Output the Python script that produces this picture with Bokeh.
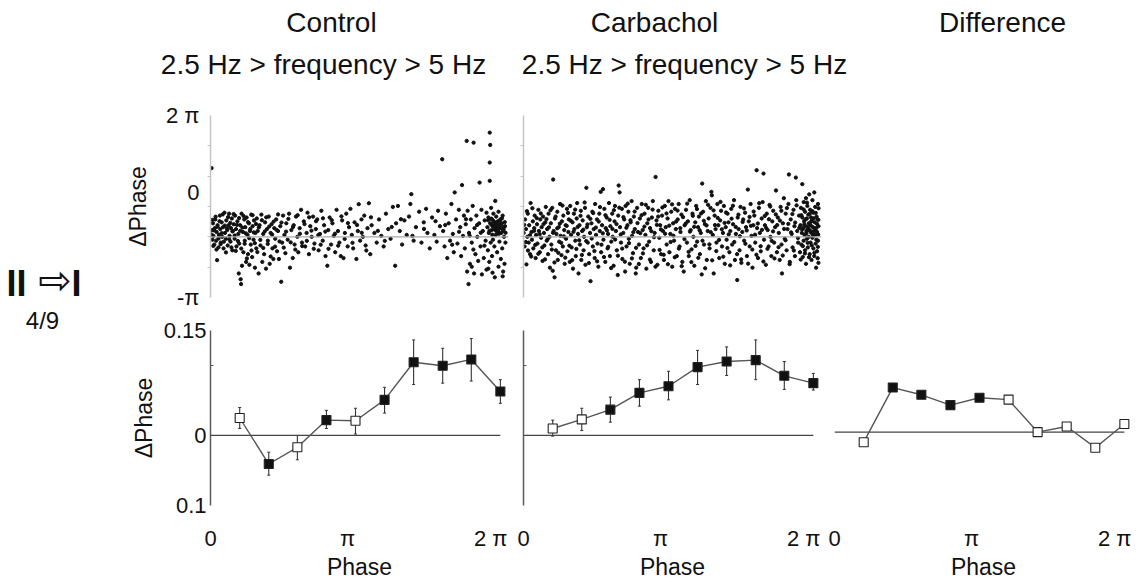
import math
from bokeh.plotting import figure
from bokeh.layouts import row, column
from bokeh.models import ColumnDataSource, Range1d, FixedTicker, Span, Whisker, TeeHead
from bokeh.core.properties import value
from bokeh.embed import file_html
from bokeh.resources import INLINE

PI = math.pi
TWO_PI = 2 * math.pi
FONT = "Liberation Sans"
TXT = "#111111"

# ---------------- data ----------------
phase_bins = [0.63, 1.26, 1.88, 2.51, 3.14, 3.77, 4.40, 5.03, 5.65, 6.28]

control_mean = [0.025, -0.041, -0.017, 0.022, 0.021, 0.051, 0.105, 0.100, 0.109, 0.063]
control_hi = [0.040, -0.024, 0.000, 0.036, 0.039, 0.069, 0.137, 0.125, 0.139, 0.080]
control_lo = [0.010, -0.057, -0.035, 0.010, 0.002, 0.032, 0.073, 0.075, 0.078, 0.046]
control_sig = [0, 1, 0, 1, 0, 1, 1, 1, 1, 1]

carb_mean = [0.010, 0.023, 0.037, 0.061, 0.0705, 0.098, 0.106, 0.108, 0.0855, 0.075]
carb_hi = [0.022, 0.039, 0.055, 0.080, 0.092, 0.122, 0.127, 0.137, 0.106, 0.089]
carb_lo = [-0.001, 0.007, 0.019, 0.042, 0.051, 0.073, 0.086, 0.080, 0.066, 0.065]
carb_sig = [0, 0, 1, 1, 1, 1, 1, 1, 1, 1]

diff_mean = [-0.0145, 0.064, 0.0536, 0.0388, 0.0494, 0.0466, 0.0, 0.008, -0.0224, 0.0116]
diff_sig = [0, 1, 1, 1, 1, 0, 0, 0, 0, 0]

column_titles = ["Control", "Carbachol", "Difference"]
band_titles = ["2.5 Hz > frequency > 5 Hz", "2.5 Hz > frequency > 5 Hz"]
transition_label = ["II", "⇨", "I"]
count_label = "4/9"

x_tick_values = [0, 2.97, 6.07]
x_tick_labels = ["0", "π", "2 π"]
top_y_ticks = [-PI, 2.30, TWO_PI]
top_y_labels = ["-π", "0", "2 π"]
top_y_minor = [-PI / 2, 0, PI / 2, PI, 3 * PI / 2]
bot_y_ticks = [-0.1, 0.0, 0.15]
bot_y_labels = ["0.1", "0", "0.15"]
bot_y_minor = [0.1]

control_dots = [
    (0.02, 3.56), (0.03, 0.35), (0.04, -0.15), (0.05, 0.7), (0.06, 0.05), (0.08, -0.4), (0.09, 0.45),
    (0.1, 0.9), (0.12, -0.2), (0.13, 0.25), (0.14, -1.21), (0.15, 0.6), (0.17, -0.55), (0.18, 0.1),
    (0.2, 1.1), (0.21, 0.4), (0.22, -0.3), (0.24, 0.75), (0.25, 0.0), (0.27, 0.5), (0.28, -0.6),
    (0.3, 1.25), (0.31, 0.2), (0.33, -0.1), (0.34, 0.85), (0.36, 0.35), (0.37, -0.45), (0.39, 0.6),
    (0.4, 1.2), (0.41, 0.05), (0.43, -0.25), (0.44, 0.45), (0.46, 0.95), (0.47, -0.7), (0.48, 0.3),
    (0.5, 0.65), (0.52, -0.1), (0.53, 1.1), (0.55, 0.4), (0.56, -0.5), (0.58, 0.8), (0.6, 0.15),
    (0.61, -1.9), (0.62, -0.35), (0.64, 0.6), (0.65, -2.2), (0.66, -2.45), (0.67, 1.2), (0.68, -1.5),
    (0.7, 0.25), (0.71, -0.8), (0.73, 0.9), (0.74, -0.2), (0.75, 0.5), (0.77, -1.3), (0.78, 1.0),
    (0.8, 0.1), (0.81, -0.9), (0.83, 0.7), (0.84, -1.45), (0.85, 0.3), (0.87, -0.4), (0.88, 1.15),
    (0.9, -1.05), (0.91, 0.55), (0.93, -0.15), (0.94, 0.85), (0.96, -1.6), (0.97, 0.2), (0.99, -0.6),
    (1.0, 0.95), (1.02, 0.3), (1.04, -1.9), (1.06, 0.6), (1.08, -0.45), (1.1, 1.15), (1.12, -1.3),
    (1.14, 0.15), (1.16, -0.9), (1.18, 0.75), (1.2, -1.65), (1.22, 0.4), (1.24, -0.2), (1.26, 1.05),
    (1.28, -1.4), (1.3, 0.2), (1.32, 0.65), (1.34, -0.6), (1.36, -1.15), (1.38, 0.45), (1.4, -0.1),
    (1.42, 0.9), (1.44, -0.75), (1.46, 0.3), (1.48, -1.15), (1.51, 0.55), (1.53, -2.33), (1.55, -0.3),
    (1.57, 1.1), (1.6, 0.1), (1.62, -0.85), (1.64, 0.7), (1.67, -0.15), (1.7, 1.2), (1.72, -1.6),
    (1.75, 0.35), (1.78, -1.1), (1.8, 0.6), (1.82, -0.4), (1.85, 1.05), (1.88, 0.0), (1.9, -0.8),
    (1.93, 0.45), (1.96, 1.4), (1.98, -0.3), (2.02, 0.8), (2.05, -0.5), (2.08, 0.2), (2.1, 1.25),
    (2.13, -0.9), (2.16, 0.55), (2.19, 0.0), (2.22, 1.05), (2.25, -0.35), (2.28, 0.4), (2.31, 0.9),
    (2.34, -0.7), (2.37, 0.15), (2.4, 1.35), (2.43, -0.2), (2.46, 0.6), (2.49, -1.0), (2.53, -1.5),
    (2.55, 0.35), (2.58, 1.0), (2.61, -0.4), (2.64, 0.7), (2.67, 0.05), (2.7, -0.8), (2.73, 1.4),
    (2.76, 0.3), (2.79, -0.3), (2.82, -1.0), (2.85, 0.85), (2.88, -1.1), (2.91, 0.2), (2.94, 1.2),
    (2.97, -0.5), (3.0, 0.5), (3.03, 1.45), (3.06, 0.1), (3.09, -0.6), (3.12, 0.75), (3.16, -1.15),
    (3.19, 0.3), (3.21, 1.69), (3.24, -0.2), (3.27, 0.9), (3.3, 0.0), (3.33, 1.1), (3.36, -0.45),
    (3.4, 0.45), (3.43, 1.74), (3.46, -0.9), (3.49, 0.6), (3.55, 0.2), (3.6, -0.3), (3.65, 0.9),
    (3.7, 0.05), (3.75, -0.5), (3.8, 1.2), (3.85, 0.4), (3.9, -0.1), (3.95, 1.55), (4.0, -1.5),
    (4.02, 0.7), (4.06, 1.6), (4.1, 0.3), (4.15, -0.4), (4.2, 0.85), (4.25, 0.1), (4.3, 1.05),
    (4.33, 1.7), (4.35, 2.21), (4.4, -0.2), (4.45, 0.5), (4.52, 1.3), (4.57, -0.3), (4.62, 0.75),
    (4.67, 1.45), (4.7, 0.2), (4.75, -0.6), (4.8, 1.0), (4.85, 0.1), (4.9, -0.25), (4.93, 1.35),
    (4.97, 0.55), (5.02, 4.02), (5.04, 0.3), (5.07, -0.5), (5.1, 1.2), (5.13, -1.1), (5.16, 0.7),
    (5.19, -0.2), (5.22, 1.7), (5.25, 0.15), (5.27, -0.8), (5.29, 2.3), (5.32, 0.9), (5.35, -0.35),
    (5.38, 1.4), (5.41, 0.5), (5.43, -1.0), (5.45, 2.68), (5.47, 0.05), (5.49, 1.1), (5.51, -0.6),
    (5.53, 0.65), (5.55, 4.97), (5.56, -1.8), (5.57, 1.35), (5.59, -2.45), (5.6, 0.2), (5.62, -1.4),
    (5.64, 0.9), (5.66, -0.3), (5.68, 1.6), (5.7, 4.88), (5.71, -1.9), (5.72, 0.45), (5.74, -0.9),
    (5.76, 1.1), (5.78, 0.0), (5.8, -1.25), (5.82, 0.7), (5.83, 2.81), (5.85, -0.5), (5.87, 1.4),
    (5.88, -1.95), (5.9, 0.3), (5.92, -1.1), (5.94, 0.85), (5.96, -0.2), (5.98, 1.25), (6.0, 0.5),
    (6.01, -0.7), (6.02, 1.0), (6.03, 0.2), (6.04, -1.3), (6.05, 5.4), (6.05, 3.85), (6.05, 2.9),
    (6.06, 4.76), (6.06, 0.7), (6.07, -0.3), (6.08, 1.5), (6.09, 0.35), (6.1, -1.0), (6.1, 0.9),
    (6.11, 0.55), (6.12, -0.15), (6.13, 1.2), (6.14, 0.4), (6.15, 0.75), (6.15, -0.5), (6.16, -2.1),
    (6.17, 1.86), (6.17, 0.6), (6.18, 0.1), (6.19, 1.05), (6.2, 0.5), (6.21, -0.8), (6.22, 0.8),
    (6.23, 0.3), (6.24, 1.3), (6.25, 0.65), (6.26, -0.25), (6.27, 0.45), (6.28, 0.9), (6.29, -1.15),
    (6.3, 0.2), (6.31, 0.7), (6.32, -0.6), (6.33, 1.1), (6.34, -1.8), (6.35, 0.4), (6.36, 0.0),
    (6.37, -1.4), (6.38, 0.55), (6.39, -0.3),
    (0.016, 0.12), (0.037, 0.88), (0.058, -0.47), (0.079, 0.33), (0.107, 1.04), (0.126, -0.66),
    (0.148, 0.52), (0.171, -0.09), (0.193, 0.81), (0.216, -0.38), (0.239, 0.19), (0.262, 1.16),
    (0.286, -0.25), (0.309, 0.58), (0.332, -0.81), (0.356, 0.43), (0.378, 1.02), (0.403, -0.13),
    (0.426, 0.72), (0.451, -0.55), (0.473, 0.28), (0.497, 1.18), (0.521, 0.07), (0.544, -0.73),
    (0.569, 0.62), (0.592, -0.22), (0.617, 0.97), (0.641, 0.31), (0.664, -0.61), (0.688, 0.48),
    (0.713, 1.08), (0.737, -0.36), (0.762, 0.18), (0.786, -1.12), (0.811, 0.76), (0.836, -0.07),
    (0.861, 0.41), (0.885, -0.71), (0.909, 1.12), (0.934, 0.23), (0.958, -0.33), (0.983, 0.67),
    (1.013, -0.79), (1.045, 0.49), (1.077, -0.16), (1.109, 0.86), (1.141, -0.58), (1.173, 0.28),
    (1.205, 1.01), (1.237, -0.37), (1.269, 0.53), (1.301, -1.02), (1.333, 0.12), (1.365, 0.79),
    (1.397, -0.51), (1.429, 0.36), (1.461, 1.16), (1.493, -0.24), (1.535, 0.74), (1.585, -0.56),
    (1.635, 0.27), (1.685, 0.93), (1.735, -0.29), (1.785, 0.51), (1.835, -0.66), (1.885, 1.12),
    (1.935, 0.16), (1.985, -0.48), (2.035, 0.66), (2.085, -0.21), (2.135, 1.01), (2.185, 0.32),
    (2.235, -0.62), (2.285, 0.81), (2.335, 0.09), (2.385, -0.41), (2.435, 0.96), (2.485, 0.27),
    (2.555, -0.62), (2.625, 0.86), (2.695, 0.16), (2.765, -0.46), (2.835, 1.06), (2.905, -0.11),
    (2.975, 0.71), (3.075, -0.31), (3.175, 0.61), (3.275, 0.21), (3.375, -0.71), (3.475, 1.01),
    (3.625, 0.31), (3.775, -0.21), (3.925, 0.51), (4.125, 0.91), (4.375, 0.05), (4.625, 0.41),
    (4.875, 0.81), (5.085, 0.61), (5.235, -0.41), (5.385, 0.26), (5.535, 0.91), (5.615, 0.06),
    (5.695, -0.66), (5.775, 0.61), (5.855, 0.21), (5.935, -0.46), (6.015, 0.86), (6.045, 0.31),
    (6.075, 0.66), (6.105, 0.11), (6.135, 0.81), (6.165, 0.36), (6.195, 0.71), (6.225, 0.46),
    (6.255, 0.16), (6.285, 0.61), (6.315, 0.96), (6.345, 0.31), (6.375, 0.76), (6.392, 0.21),
    (6.355, 0.52), (6.325, 0.38), (6.265, 0.84), (6.205, 0.22), (6.145, 0.58), (6.085, 0.94),
    (6.02, -1.65), (6.11, -1.86), (6.24, -1.55), (6.33, -2.05), (5.66, -1.55), (5.98, -1.7),
]

carb_dots = [
    (0.0, 0.2), (0.02, -0.5), (0.03, 0.9), (0.05, 0.4), (0.06, -1.43), (0.08, 0.0), (0.09, 1.2),
    (0.11, -0.3), (0.12, 0.6), (0.14, -0.9), (0.15, 1.75), (0.17, 0.25), (0.18, -0.15), (0.2, 0.8),
    (0.21, -0.6), (0.23, 0.45), (0.24, 1.1), (0.26, -1.1), (0.27, 0.1), (0.29, 0.65), (0.3, -0.35),
    (0.32, 1.4), (0.33, 0.3), (0.35, -0.8), (0.36, 0.9), (0.38, -0.05), (0.39, 0.5), (0.41, -1.25),
    (0.42, 1.05), (0.44, 0.2), (0.45, -0.45), (0.47, 0.75), (0.48, 1.55), (0.5, -0.2), (0.51, 0.4),
    (0.53, -0.9), (0.54, 1.2), (0.56, 0.0), (0.57, -1.6), (0.59, 0.7), (0.6, -0.4), (0.62, 1.5),
    (0.63, -1.76), (0.64, 2.97), (0.65, 0.3), (0.67, -2.1), (0.68, 0.95), (0.7, -0.7), (0.71, 0.15),
    (0.73, 1.3), (0.74, -1.2), (0.76, 0.5), (0.77, -0.25), (0.79, 1.7), (0.8, 0.05), (0.82, -0.95),
    (0.83, 0.8), (0.85, -0.5), (0.86, 1.1), (0.88, 0.35), (0.89, -1.4), (0.91, 0.6), (0.92, -0.1),
    (0.94, 1.45), (0.95, -0.75), (0.97, 0.25), (0.98, 0.9), (1.0, -1.3), (1.01, 1.6), (1.03, 0.1),
    (1.04, -0.55), (1.06, 0.75), (1.07, -1.65), (1.09, 1.2), (1.1, 0.4), (1.12, -0.2), (1.13, -1.0),
    (1.15, 0.95), (1.16, 1.75), (1.18, 0.15), (1.19, -1.9), (1.21, 0.6), (1.22, -0.4), (1.24, 1.35),
    (1.25, -1.2), (1.27, 0.3), (1.28, 0.85), (1.3, -0.7), (1.31, 0.0), (1.33, 1.5), (1.34, -1.45),
    (1.36, 2.54), (1.37, 0.5), (1.39, -0.3), (1.4, 1.05), (1.42, -0.9), (1.44, 0.2), (1.45, -2.3),
    (1.47, 0.7), (1.49, 1.3), (1.5, -0.5), (1.52, 0.4), (1.54, -1.1), (1.55, 1.7), (1.57, 0.1),
    (1.59, 0.9), (1.6, -0.35), (1.62, -1.55), (1.64, 1.2), (1.65, 0.3), (1.67, 2.33), (1.68, -0.8),
    (1.7, 0.6), (1.72, 2.47), (1.73, -0.15), (1.75, 1.45), (1.77, -1.3), (1.78, 0.45), (1.8, 1.0),
    (1.82, -0.6), (1.83, 0.15), (1.85, 1.75), (1.87, -1.0), (1.88, 0.55), (1.9, -0.25), (1.92, 1.2),
    (1.93, 0.0), (1.95, -1.5), (1.97, 0.8), (1.98, 1.6), (2.0, 0.3), (2.02, -0.7), (2.04, -1.98),
    (2.05, 1.1), (2.06, 2.66), (2.08, 2.3), (2.09, 0.5), (2.11, -0.3), (2.13, 1.45), (2.14, -1.15),
    (2.16, 0.2), (2.18, 0.9), (2.2, -1.8), (2.21, 1.6), (2.23, -0.5), (2.25, 0.6), (2.27, 1.3),
    (2.28, -0.1), (2.3, -1.4), (2.32, 0.75), (2.34, 1.85), (2.35, 0.05), (2.37, -0.85), (2.39, 1.05),
    (2.41, 0.4), (2.43, -1.9), (2.44, -1.6), (2.46, 1.5), (2.48, 0.25), (2.5, -0.4), (2.52, 0.95),
    (2.54, -1.1), (2.56, 1.7), (2.58, 0.35), (2.6, -0.6), (2.62, 1.2), (2.64, 0.1), (2.66, -1.65),
    (2.68, 0.7), (2.7, 1.5), (2.72, -0.25), (2.74, 0.45), (2.76, -1.3), (2.78, 1.0), (2.8, 1.85),
    (2.82, -0.7), (2.84, 0.2), (2.86, 3.1), (2.88, 0.85), (2.9, -1.45), (2.92, 1.35), (2.94, -0.05),
    (2.96, 0.6), (2.98, -0.9), (3.0, 1.1), (3.02, 0.3), (3.04, -1.2), (3.06, 1.6), (3.08, 0.5),
    (3.1, -0.4), (3.12, 0.95), (3.14, 1.85), (3.16, -0.8), (3.18, 0.15), (3.2, 1.3), (3.22, -1.55),
    (3.24, 0.7), (3.26, -0.2), (3.28, 1.45), (3.3, 0.4), (3.32, -1.0), (3.34, 0.9), (3.36, 1.7),
    (3.38, -0.5), (3.4, 0.25), (3.42, 1.15), (3.44, -1.3), (3.47, -1.8), (3.49, 0.6), (3.52, 1.4),
    (3.54, -0.3), (3.56, 0.8), (3.58, -1.0), (3.6, 1.9), (3.62, 0.35), (3.64, -0.65), (3.66, 1.2),
    (3.68, 0.0), (3.7, -1.5), (3.72, 0.75), (3.74, 1.6), (3.76, -0.25), (3.78, 0.5), (3.8, 1.05),
    (3.82, -0.9), (3.84, 0.2), (3.86, -1.95), (3.87, 2.76), (3.89, 1.3), (3.91, -0.4), (3.93, 0.65),
    (3.95, 1.85), (3.97, -1.2), (3.99, 0.3), (4.01, 0.95), (4.03, -0.6), (4.05, 1.5), (4.07, 2.33),
    (4.08, 2.15), (4.1, 0.1), (4.12, -1.9), (4.14, 1.1), (4.16, 0.4), (4.18, -0.3), (4.2, 1.7),
    (4.22, 0.6), (4.24, -1.1), (4.26, 0.85), (4.28, 1.35), (4.3, -0.5), (4.32, 0.2), (4.34, 1.6),
    (4.36, -1.4), (4.38, 0.5), (4.4, -0.15), (4.42, 1.2), (4.44, 0.75), (4.46, -0.8), (4.48, 0.3),
    (4.5, 1.45), (4.52, -0.4), (4.54, 0.65), (4.56, 1.9), (4.58, -1.2), (4.6, 0.15), (4.63, -2.24),
    (4.64, 1.0), (4.66, 0.4), (4.68, -0.7), (4.7, 1.55), (4.72, -1.35), (4.74, 0.25), (4.76, 0.9),
    (4.78, -0.2), (4.8, 1.25), (4.82, 0.5), (4.84, -1.0), (4.86, 2.45), (4.88, 0.8), (4.9, -0.5),
    (4.92, 1.7), (4.94, 0.05), (4.96, -1.6), (4.98, 0.6), (5.0, 1.1), (5.02, -0.3), (5.05, 3.45),
    (5.06, 0.45), (5.08, -1.1), (5.1, 1.5), (5.12, 0.2), (5.14, -0.75), (5.16, 0.95), (5.18, 1.8),
    (5.2, 3.28), (5.21, -0.15), (5.23, 0.6), (5.25, -1.45), (5.27, 1.2), (5.29, 0.35), (5.31, -0.5),
    (5.33, 1.65), (5.35, 0.0), (5.37, -1.0), (5.39, 0.8), (5.41, 1.35), (5.43, -0.3), (5.45, 0.5),
    (5.47, 2.4), (5.49, -0.8), (5.51, 1.0), (5.53, 0.2), (5.55, -1.2), (5.57, 1.55), (5.59, -0.4),
    (5.6, -1.9), (5.62, 0.7), (5.64, 2.0), (5.66, -0.1), (5.68, 1.2), (5.7, -0.7), (5.72, 0.4),
    (5.74, 1.7), (5.75, 3.23), (5.77, -1.3), (5.79, 0.9), (5.81, 0.15), (5.83, -0.55), (5.85, 1.4),
    (5.87, 0.55), (5.88, -1.0), (5.9, 3.07), (5.91, 1.9), (5.93, 0.3), (5.95, -0.3), (5.97, 1.1),
    (5.99, -0.8), (6.0, 0.6), (6.01, 1.5), (6.02, -0.4), (6.03, 0.2), (6.04, 2.73), (6.04, 1.0),
    (6.05, -1.05), (6.06, 0.45), (6.07, 1.8), (6.07, -0.2), (6.08, 0.8), (6.09, 0.1), (6.1, 1.3),
    (6.1, -0.7), (6.11, 0.55), (6.12, 2.0), (6.12, -1.4), (6.13, 0.3), (6.14, 0.95), (6.14, -0.1),
    (6.15, 1.6), (6.16, 0.4), (6.16, -0.55), (6.17, 1.15), (6.18, 0.0), (6.18, 0.7), (6.19, 2.2),
    (6.2, -0.9), (6.2, 0.35), (6.21, 1.4), (6.22, 0.6), (6.22, -0.3), (6.23, 1.0), (6.24, 0.2),
    (6.24, -1.2), (6.25, 0.85), (6.26, 1.9), (6.26, -0.05), (6.27, 0.5), (6.28, -0.6), (6.28, 1.25),
    (6.29, 0.3), (6.3, 2.3), (6.3, -1.0), (6.31, 0.75), (6.32, 0.1), (6.32, 1.55), (6.33, -0.35),
    (6.34, 0.45), (6.34, -1.6), (6.35, 1.05), (6.36, 0.25), (6.36, -0.75), (6.37, 0.9), (6.38, 1.7),
    (6.38, -0.2), (6.39, 0.55), (6.39, -1.35),
    (0.013, 0.62), (0.047, -0.27), (0.071, 1.33), (0.094, -0.71), (0.137, 0.08), (0.163, -1.02),
    (0.189, 1.48), (0.226, 0.31), (0.252, -0.42), (0.283, 0.97), (0.318, -0.88), (0.347, 0.14),
    (0.372, 1.21), (0.404, -0.55), (0.431, 0.66), (0.463, -1.17), (0.494, 0.92), (0.522, -0.12),
    (0.548, 0.49), (0.583, 1.38), (0.611, -0.66), (0.637, 0.21), (0.668, -1.33), (0.693, 1.05),
    (0.727, 0.44), (0.752, -0.83), (0.784, 0.68), (0.813, -0.31), (0.842, 1.62), (0.871, 0.02),
    (0.903, -1.08), (0.934, 0.57), (0.962, 1.24), (0.991, -0.46), (1.023, 0.83), (1.052, -1.21),
    (1.081, 0.26), (1.117, 1.41), (1.143, -0.63), (1.171, 0.51), (1.204, -0.18), (1.233, 1.09),
    (1.262, -0.94), (1.293, 0.37), (1.322, 1.78), (1.357, -0.22), (1.383, 0.64), (1.414, -1.36),
    (1.447, 0.93), (1.476, -0.09), (1.508, 1.23), (1.534, -0.74), (1.566, 0.48), (1.593, -1.27),
    (1.628, 0.79), (1.655, 1.54), (1.687, -0.41), (1.716, 0.18), (1.742, -1.05), (1.774, 1.12),
    (1.806, 0.33), (1.833, -0.52), (1.864, 0.88), (1.897, -1.62), (1.925, 0.41), (1.956, 1.38),
    (1.983, -0.14), (2.013, 0.66), (2.044, -0.98), (2.073, 1.51), (2.104, 0.12), (2.136, -0.61),
    (2.163, 1.02), (2.194, -1.29), (2.227, 0.47), (2.256, 1.72), (2.284, -0.33), (2.316, 0.86),
    (2.347, -1.12), (2.378, 0.24), (2.406, 1.31), (2.437, -0.57), (2.468, 0.71), (2.497, -1.41),
    (2.528, 0.19), (2.557, 1.12), (2.586, -0.86), (2.617, 0.53), (2.648, 1.66), (2.676, -0.44),
    (2.707, 0.9), (2.737, -1.18), (2.768, 0.29), (2.796, 1.41), (2.827, -0.02), (2.858, -1.55),
    (2.887, 0.62), (2.916, 1.05), (2.947, -0.68), (2.975, 0.38), (3.007, 1.52), (3.036, -0.93),
    (3.067, 0.16), (3.097, 1.21), (3.127, -1.42), (3.155, 0.58), (3.186, -0.27), (3.217, 1.68),
    (3.247, 0.06), (3.276, -1.06), (3.305, 0.79), (3.336, 1.36), (3.365, -0.61), (3.396, 0.45),
    (3.426, -1.52), (3.455, 1.02), (3.486, -0.12), (3.514, 0.69), (3.545, 1.72), (3.576, -0.78),
    (3.605, 0.27), (3.636, -1.31), (3.667, 1.09), (3.696, 0.52), (3.725, -0.47), (3.757, 1.44),
    (3.786, -1.09), (3.815, 0.34), (3.846, 1.21), (3.877, -0.2), (3.906, 0.83), (3.935, -1.63),
    (3.966, 0.59), (3.997, 1.66), (4.027, -0.39), (4.056, 0.24), (4.087, -1.22), (4.116, 1.37),
    (4.147, 0.61), (4.176, -0.74), (4.207, 0.98), (4.236, -0.16), (4.267, 1.81), (4.296, 0.39),
    (4.327, -1.03), (4.356, 0.72), (4.387, 1.26), (4.417, -0.58), (4.446, 0.13), (4.477, -1.48),
    (4.507, 0.94), (4.537, 1.61), (4.566, -0.27), (4.597, 0.51), (4.627, -0.9), (4.656, 1.15),
    (4.687, 0.03), (4.716, -1.17), (4.747, 0.77), (4.776, 1.47), (4.807, -0.36), (4.836, 0.33),
    (4.866, -1.39), (4.897, 1.03), (4.926, 0.57), (4.957, -0.66), (4.986, 1.31), (5.017, 0.11),
    (5.046, -0.93), (5.077, 0.69), (5.106, 1.74), (5.137, -0.49), (5.166, 0.36), (5.197, -1.28),
    (5.226, 1.08), (5.257, 0.46), (5.286, -0.62), (5.317, 0.91), (5.346, 1.57), (5.377, -0.21),
    (5.406, 0.28), (5.437, -1.12), (5.466, 1.16), (5.497, 0.61), (5.526, -0.54), (5.556, 0.84),
    (5.586, 1.35), (5.617, -0.97), (5.646, 0.41), (5.677, -0.18), (5.706, 1.49), (5.737, 0.67),
    (5.766, -1.42), (5.797, 0.23), (5.826, 1.18), (5.857, -0.71), (5.886, 0.74), (5.916, 1.63),
    (5.946, -0.06), (5.976, 0.46), (6.006, -1.18), (6.021, 1.12), (6.036, 0.38), (6.052, -0.48),
    (6.068, 1.42), (6.083, 0.64), (6.097, -0.86), (6.112, 0.91), (6.127, 0.18), (6.142, 1.77),
    (6.157, -0.31), (6.171, 0.52), (6.186, -1.06), (6.201, 1.19), (6.215, 0.27), (6.229, 0.78),
    (6.244, -0.44), (6.258, 1.33), (6.273, 0.09), (6.287, 0.96), (6.302, -0.83), (6.316, 0.42),
    (6.331, 1.24), (6.345, -0.15), (6.36, 0.67), (6.374, -1.11), (6.388, 0.88), (6.392, 1.48),
    (6.385, 0.12), (6.377, -0.52),
]

# ---------------- layout constants (pixels) ----------------
PX_PER_RAD = 290 / TWO_PI
PAGE_W, PAGE_H = 1139, 582
LEFT_W = 110
HEADER_H = 95
TOP_H, BOT_H = 218, 269
TOP_BORDER, TOP_BOTTOM = 20, 16
BOT_BORDER, BOT_BOTTOM = 17, 73
FRAME_W = 298
TOP_FRAME_Y = (-PI - 0.004, TWO_PI + 0.004)
BOT_FRAME_Y = (-0.1005, 0.1505)
DIFF_FRAME_Y = (-0.1055, 0.1460)

LIGHT_AXIS = "#c4c4c4"
DARK_AXIS = "#5a5a5a"


def blank(p):
    p.outline_line_color = None
    p.xgrid.visible = False
    p.ygrid.visible = False
    p.background_fill_color = "white"
    p.border_fill_color = "white"
    return p


def make_fig(width, height, left, right, top, bottom, yr, x_axis=False, y_axis=True):
    p = figure(width=width, height=height, output_backend="svg", toolbar_location=None,
               x_range=Range1d(-0.003, FRAME_W / PX_PER_RAD), y_range=Range1d(*yr),
               x_axis_location="below" if x_axis else None,
               y_axis_location="left" if y_axis else None,
               min_border_left=left, min_border_right=right,
               min_border_top=top, min_border_bottom=bottom)
    return blank(p)


def text_fig(width, height, x0):
    # a plain canvas in page pixels for the free-standing texts
    p = figure(width=width, height=height, output_backend="svg", toolbar_location=None,
               x_range=Range1d(x0, x0 + width), y_range=Range1d(height, 0),
               x_axis_location=None, y_axis_location=None,
               min_border_left=0, min_border_right=0, min_border_top=0, min_border_bottom=0)
    return blank(p)


def style_yaxis(p, ticks, labels, minor, color, show_labels, standoff, label=None, label_standoff=5):
    ax = p.yaxis[0]
    if show_labels:
        ax.ticker = FixedTicker(ticks=ticks, minor_ticks=minor)
        ax.major_label_overrides = {t: l for t, l in zip(ticks, labels)}
    else:
        ax.ticker = FixedTicker(ticks=[], minor_ticks=minor)
    ax.axis_line_color = color
    ax.axis_line_width = 1.5
    ax.major_tick_line_color = None
    ax.minor_tick_line_color = color
    ax.minor_tick_in = 0
    ax.minor_tick_out = 3
    ax.major_tick_in = 0
    ax.major_tick_out = 0
    ax.major_label_standoff = standoff
    ax.major_label_text_font = FONT
    ax.major_label_text_font_size = "22px"
    ax.major_label_text_color = TXT
    if label:
        ax.axis_label = label
        ax.axis_label_text_font = FONT
        ax.axis_label_text_font_size = "23px"
        ax.axis_label_text_font_style = "normal"
        ax.axis_label_text_color = TXT
        ax.axis_label_standoff = label_standoff


def style_xaxis(p):
    ax = p.xaxis[0]
    ax.ticker = FixedTicker(ticks=x_tick_values)
    ax.major_label_overrides = {t: l for t, l in zip(x_tick_values, x_tick_labels)}
    ax.axis_line_color = None
    ax.major_tick_line_color = None
    ax.minor_tick_line_color = None
    ax.major_tick_in = 0
    ax.major_tick_out = 0
    ax.major_label_standoff = 20
    ax.major_label_text_font = FONT
    ax.major_label_text_font_size = "22px"
    ax.major_label_text_color = TXT
    ax.axis_label = "Phase"
    ax.axis_label_text_font = FONT
    ax.axis_label_text_font_size = "23px"
    ax.axis_label_text_font_style = "normal"
    ax.axis_label_text_color = TXT
    ax.axis_label_standoff = 0


def scatter_panel(p, dots):
    xs = [d[0] for d in dots]
    ys = [d[1] for d in dots]
    p.add_layout(Span(location=0, dimension="width", line_color="#a8a8a8", line_width=1.2))
    p.scatter(xs, ys, size=3.3, color="#111111", marker="circle")


def mean_panel(p, mean, sig, lo=None, hi=None):
    p.line([0, phase_bins[-1]], [0, 0], line_color="#444444", line_width=1.3)
    p.line(phase_bins, mean, line_color="#555555", line_width=1.4)
    fill = ["#111111" if s else "white" for s in sig]
    src = ColumnDataSource(dict(x=phase_bins, y=mean, fill=fill))
    p.scatter("x", "y", source=src, marker="square", size=9, fill_color="fill",
              line_color="#222222", line_width=1.1)
    if lo is not None:
        wsrc = ColumnDataSource(dict(base=phase_bins, lower=lo, upper=hi))
        p.add_layout(Whisker(source=wsrc, base="base", lower="lower", upper="upper",
                             line_color="#333333", line_width=1.1,
                             upper_head=TeeHead(size=3, line_color="#333333", line_width=1),
                             lower_head=TeeHead(size=3, line_color="#333333", line_width=1)))


# ---------------- free texts ----------------
header = text_fig(PAGE_W - LEFT_W, HEADER_H, LEFT_W)
header.text(x=[331, 654, 1002], y=[22, 22, 22], text=column_titles,
            text_font=value(FONT), text_font_size="28px", text_align="center",
            text_baseline="alphabetic", text_color=TXT)
header.text(x=[323, 684], y=[64, 64], text=band_titles,
            text_font=value(FONT), text_font_size="28px", text_align="center",
            text_baseline="alphabetic", text_color=TXT)

left = text_fig(LEFT_W, PAGE_H, 0)
left.text(x=[6, 71], y=[283, 283], text=[transition_label[0], transition_label[2]],
          text_font=value(FONT), text_font_size="36px", text_font_style="bold",
          text_align="left", text_baseline="alphabetic", text_color=TXT)
left.text(x=[38], y=[279], text=[transition_label[1]],
          text_font=value("DejaVu Sans"), text_font_size="40px",
          text_align="left", text_baseline="middle", text_color=TXT)
left.text(x=[42], y=[320], text=[count_label],
          text_font=value(FONT), text_font_size="24px",
          text_align="center", text_baseline="alphabetic", text_color=TXT)

# ---------------- column A: Control ----------------
tl = make_fig(100 + FRAME_W + 7, TOP_H, 100, 7, TOP_BORDER, TOP_BOTTOM, TOP_FRAME_Y)
style_yaxis(tl, top_y_ticks, top_y_labels, top_y_minor, LIGHT_AXIS, True, 8, "ΔPhase", 12)
scatter_panel(tl, control_dots)

bl = make_fig(100 + FRAME_W + 7, BOT_H, 100, 7, BOT_BORDER, BOT_BOTTOM, BOT_FRAME_Y, x_axis=True)
style_yaxis(bl, bot_y_ticks, bot_y_labels, bot_y_minor, DARK_AXIS, True, 4, "ΔPhase", 4)
bl.yaxis[0].minor_tick_in = 3
bl.yaxis[0].minor_tick_out = 0
style_xaxis(bl)
mean_panel(bl, control_mean, control_sig, control_lo, control_hi)

# ---------------- column B: Carbachol ----------------
tm = make_fig(8 + FRAME_W + 6, TOP_H, 8, 6, TOP_BORDER, TOP_BOTTOM, TOP_FRAME_Y)
style_yaxis(tm, top_y_ticks, top_y_labels, top_y_minor, LIGHT_AXIS, False, 8)
scatter_panel(tm, carb_dots)

bm = make_fig(8 + FRAME_W + 6, BOT_H, 8, 6, BOT_BORDER, BOT_BOTTOM, BOT_FRAME_Y, x_axis=True)
style_yaxis(bm, bot_y_ticks, bot_y_labels, bot_y_minor, DARK_AXIS, False, 4)
bm.yaxis[0].minor_tick_in = 3
bm.yaxis[0].minor_tick_out = 0
style_xaxis(bm)
mean_panel(bm, carb_mean, carb_sig, carb_lo, carb_hi)

# ---------------- column C: Difference ----------------
tr = make_fig(7 + FRAME_W + 7, TOP_H, 7, 7, TOP_BORDER, TOP_BOTTOM, TOP_FRAME_Y, y_axis=False)
br = make_fig(7 + FRAME_W + 7, BOT_H, 7, 7, BOT_BORDER, BOT_BOTTOM, DIFF_FRAME_Y, x_axis=True, y_axis=False)
style_xaxis(br)
mean_panel(br, diff_mean, diff_sig)

panels = row(column(tl, bl), column(tm, bm), column(tr, br))
layout = row(left, column(header, panels))
open("out.html", "w").write(file_html(layout, INLINE))
